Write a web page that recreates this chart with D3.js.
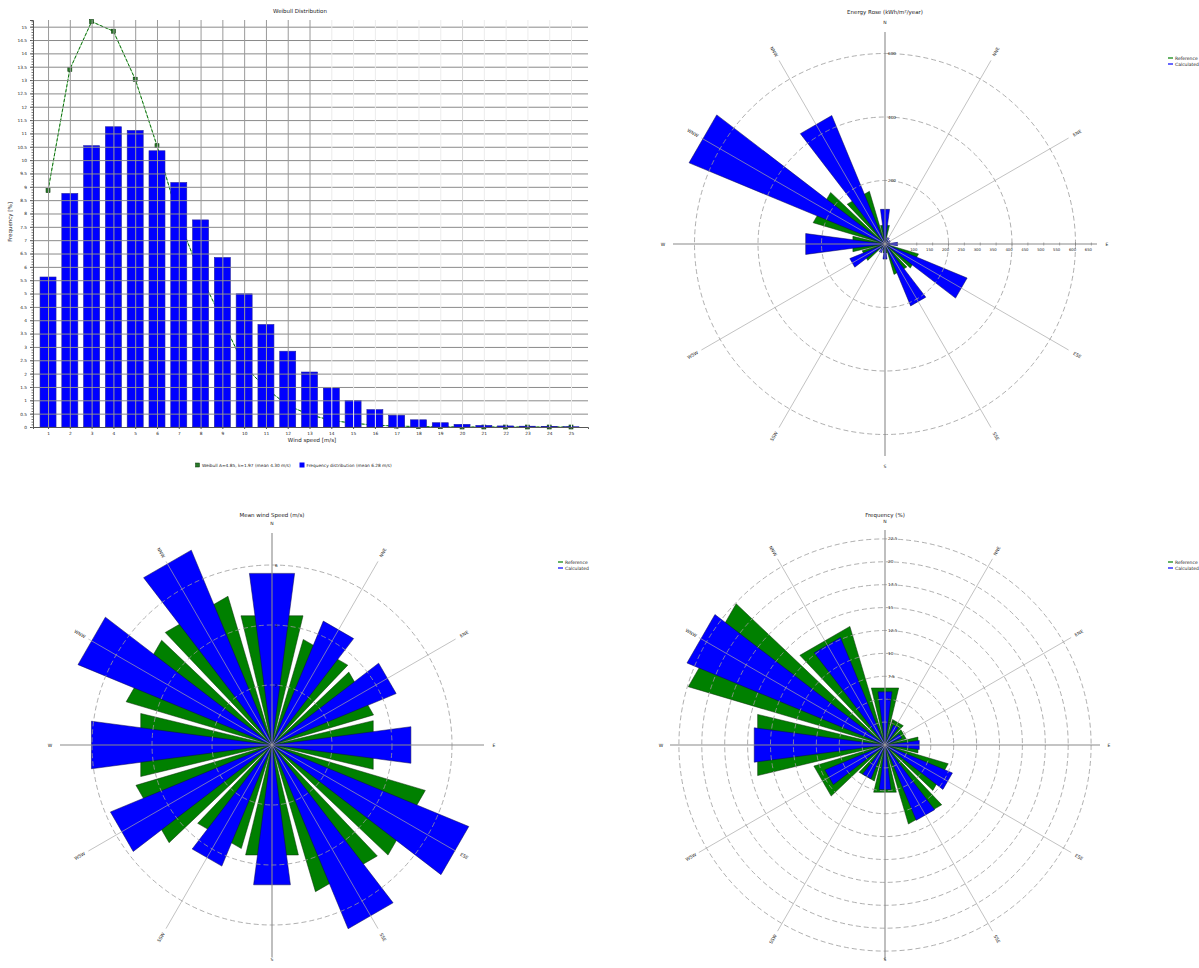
<!DOCTYPE html>
<html>
<head>
<meta charset="utf-8">
<script src="https://cdn.jsdelivr.net/npm/d3@7"></script>
<style>
  body { margin: 0; background: #fff; }
  svg { display: block; }
  text { font-family: "DejaVu Sans", "Liberation Sans", sans-serif; fill: #222; }
</style>
</head>
<body>
<svg id="chart" width="1199" height="968"></svg>
<script>
// ---------- Wind speed distribution ----------
const speedBins = [1, 2, 3, 4, 5, 6, 7, 8, 9, 10, 11, 12, 13, 14, 15, 16, 17, 18, 19, 20, 21, 22, 23, 24, 25];
const calcFreq = [5.62, 8.75, 10.54, 11.25, 11.11, 10.35, 9.16, 7.76, 6.35, 4.99, 3.84, 2.84, 2.06,
                  1.46, 1.00, 0.65, 0.44, 0.27, 0.16, 0.10, 0.06, 0.04, 0.03, 0.02, 0.01];
const weibullFreq = [8.86, 13.40, 15.19, 14.83, 13.03, 10.54, 7.78, 5.68, 4.00, 2.30, 1.45, 0.81, 0.46,
                     0.25, 0.14, 0.07, 0.035, 0.015, 0.01, 0, 0, 0, 0, 0, 0];
const weibullLegend = "Weibull A=4.85, k=1.97 (mean 4.30 m/s)";
const calcLegend = "Frequency distribution (mean 6.28 m/s)";

// ---------- Directional data (12 sectors) ----------
const directions = ["N", "NNE", "ENE", "E", "ESE", "SSE", "S", "SSW", "WSW", "W", "WNW", "NNW"];
const energyRef  = [60, 14, 10, 15, 110, 100, 28, 18, 75, 104, 236, 173];
const energyCalc = [110, 22, 18, 40, 280, 211, 48, 30, 120, 252, 668, 438];
const speedRef   = [4.43, 3.67, 3.53, 3.47, 5.33, 5.10, 3.77, 3.60, 4.73, 4.50, 5.07, 5.17];
const speedCalc  = [5.77, 4.47, 4.48, 4.67, 7.10, 6.63, 4.70, 4.37, 5.83, 6.07, 7.00, 7.03];
const freqRef    = [6.4, 2.9, 2.4, 3.7, 7.2, 9.0, 5.3, 4.1, 8.1, 14.3, 22.4, 13.5];
const freqCalc   = [5.85, 2.37, 1.97, 3.77, 7.97, 8.9, 4.91, 4.0, 7.1, 14.4, 23.4, 12.7];

const energyRings = [200, 400, 600];
const energyAxisTicks = [100, 150, 200, 250, 300, 350, 400, 450, 500, 550, 600, 650];
const speedRings = [2, 4, 6];
const freqRings = [2.5, 5, 7.5, 10, 12.5, 15, 17.5, 20, 22.5];
const seriesNames = ["Reference", "Calculated"];

const GREEN = "#008000", BLUE = "#0000ff";
const svg = d3.select("#chart");

// ================= Weibull distribution chart =================
(function () {
  const box = { left: 33, right: 588, top: 20, bottom: 427 };
  const x = d3.scaleLinear().domain([0.31, 25.78]).range([box.left, box.right]);
  const y = d3.scaleLinear().domain([0, 15.25]).range([box.bottom, box.top]);
  const g = svg.append("g");

  g.append("text").attr("x", 300).attr("y", 13).attr("text-anchor", "middle")
    .attr("font-size", 5.5).text("Weibull Distribution");

  // fitted curve (drawn beneath the bars)
  const line = d3.line().x((d, i) => x(speedBins[i])).y(d => y(d));
  g.append("path").datum(weibullFreq).attr("d", line)
    .attr("fill", "none").attr("stroke", "#8fd08f").attr("stroke-width", 1);
  g.append("path").datum(weibullFreq).attr("d", line)
    .attr("fill", "none").attr("stroke", "#006400").attr("stroke-width", 0.9)
    .attr("stroke-dasharray", "3,2");
  g.selectAll("rect.mk").data(weibullFreq).join("rect").attr("class", "mk")
    .attr("x", (d, i) => x(speedBins[i]) - 2).attr("y", d => y(d) - 2)
    .attr("width", 4).attr("height", 4)
    .attr("fill", "#2a7a2a").attr("stroke", "#0b3b0b").attr("stroke-width", 0.6);

  // bars
  g.selectAll("rect.bar").data(calcFreq).join("rect").attr("class", "bar")
    .attr("x", (d, i) => x(speedBins[i]) - 8).attr("width", 16)
    .attr("y", d => y(d)).attr("height", d => y(0) - y(d))
    .attr("fill", BLUE).attr("stroke", "#2020a0").attr("stroke-width", 0.6);

  // grid over the bars
  const gy = g.append("g").attr("transform", `translate(${box.left},0)`)
    .call(d3.axisLeft(y).ticks(30).tickSize(-(box.right - box.left)).tickFormat(""));
  gy.selectAll("line").attr("stroke", "#8a8a8a").attr("stroke-width", 1);
  gy.select(".domain").remove();
  const gx = g.append("g").attr("transform", `translate(0,${box.top})`)
    .call(d3.axisBottom(x).tickValues(speedBins).tickSize(box.bottom - box.top).tickFormat(""));
  gx.selectAll("line").attr("stroke", d => d <= 13 ? "#9a9a9a" : (d === 20 ? "#d4d4d4" : "#ececec"))
    .attr("stroke-width", 1);
  gx.select(".domain").remove();

  // axes
  const ay = g.append("g").attr("transform", `translate(${box.left},0)`)
    .call(d3.axisLeft(y).ticks(30).tickSize(3).tickFormat(d3.format("~g")));
  ay.selectAll("text").attr("font-size", 4.3).attr("fill", "#333").attr("font-family", "DejaVu Sans");
  ay.select(".domain").attr("stroke", "#555");
  ay.selectAll("line").attr("stroke", "#555");
  const aym = g.append("g").attr("transform", `translate(${box.left},0)`)
    .call(d3.axisLeft(y).ticks(150).tickSize(1.5).tickFormat(""));
  aym.selectAll("line").attr("stroke", "#777");
  aym.select(".domain").remove();

  const ax = g.append("g").attr("transform", `translate(0,${box.bottom})`)
    .call(d3.axisBottom(x).tickValues(speedBins).tickSize(2).tickFormat(d3.format("d")));
  ax.selectAll("text").attr("font-size", 4.3).attr("fill", "#333").attr("font-family", "DejaVu Sans");
  ax.select(".domain").attr("stroke", "#555");
  ax.selectAll("line").attr("stroke", "#555");

  g.append("text").attr("x", 312).attr("y", 442).attr("text-anchor", "middle")
    .attr("font-size", 5.5).text("Wind speed [m/s]");
  g.append("text").attr("transform", "translate(12,222) rotate(-90)").attr("text-anchor", "middle")
    .attr("font-size", 5.5).text("Frequency [%]");

  // legend
  g.append("rect").attr("x", 195.5).attr("y", 463).attr("width", 4).attr("height", 4)
    .attr("fill", "#2a7a2a").attr("stroke", "#0b3b0b").attr("stroke-width", 0.5);
  g.append("text").attr("x", 202).attr("y", 467).attr("font-size", 4.3).text(weibullLegend);
  g.append("rect").attr("x", 299.5).attr("y", 462.5).attr("width", 5).attr("height", 5)
    .attr("fill", BLUE);
  g.append("text").attr("x", 306.5).attr("y", 467).attr("font-size", 4.3).text(calcLegend);
})();

// ================= Polar roses =================
function rose(cfg) {
  const g = svg.append("g").attr("transform", `translate(${cfg.cx},${cfg.cy})`);
  const r = d3.scaleLinear().domain([0, cfg.unit]).range([0, cfg.unitPx]);
  const sector = d3.scaleBand().domain(directions).range([-15, 345]);
  const centre = d => sector(d) + sector.bandwidth() / 2;
  const rad = deg => deg * Math.PI / 180;
  const pt = (deg, rr) => [rr * Math.sin(rad(deg)), -rr * Math.cos(rad(deg))];

  function wedge(deg, rr, half) {
    const p = d3.path();
    p.moveTo(0, 0);
    const a = pt(deg - half, rr), b = pt(deg + half, rr);
    p.lineTo(a[0], a[1]);
    p.lineTo(b[0], b[1]);
    p.closePath();
    return p.toString();
  }

  svg.append("text").attr("x", cfg.cx).attr("y", cfg.titleY).attr("text-anchor", "middle")
    .attr("font-size", 5.5).text(cfg.title);

  // reference wedges (wide) then calculated wedges (narrow)
  g.selectAll("path.ref").data(cfg.ref).join("path").attr("class", "ref")
    .attr("d", (v, i) => wedge(centre(directions[i]), r(v), 13.5))
    .attr("fill", GREEN).attr("stroke", "#0a2a0a").attr("stroke-width", 0.5);
  g.selectAll("path.calc").data(cfg.calc).join("path").attr("class", "calc")
    .attr("d", (v, i) => wedge(centre(directions[i]), r(v), 7.5))
    .attr("fill", BLUE).attr("stroke", "#0a0a4a").attr("stroke-width", 0.5);

  // rings
  g.selectAll("circle.ring").data(cfg.rings).join("circle").attr("class", "ring")
    .attr("r", d => r(d)).attr("fill", "none")
    .attr("stroke", "#9a9a9a").attr("stroke-width", 0.8).attr("stroke-dasharray", "5,3");

  // spokes
  g.selectAll("line.spoke").data(directions).join("line").attr("class", "spoke")
    .attr("x1", 0).attr("y1", 0)
    .attr("x2", d => pt(centre(d), cfg.spokeR)[0])
    .attr("y2", d => pt(centre(d), cfg.spokeR)[1])
    .attr("stroke", d => ["N", "E", "S", "W"].includes(d) ? "#8a8a8a" : "#a8a8a8")
    .attr("stroke-width", d => ["N", "E", "S", "W"].includes(d) ? 1.1 : 0.7);

  // ring labels on the north axis
  g.selectAll("text.rl").data(cfg.rings).join("text").attr("class", "rl")
    .attr("x", 3).attr("y", d => -r(d) + 1.5)
    .attr("font-size", 4.2).attr("fill", "#444").text(d => d3.format("~g")(d));

  // optional scale along the east axis
  if (cfg.axisTicks) {
    g.selectAll("line.at").data(cfg.axisTicks).join("line").attr("class", "at")
      .attr("x1", d => r(d)).attr("x2", d => r(d)).attr("y1", -1.5).attr("y2", 1.5)
      .attr("stroke", "#777").attr("stroke-width", 0.6);
    g.selectAll("text.at").data(cfg.axisTicks).join("text").attr("class", "at")
      .attr("x", d => r(d) - 3).attr("y", 6.5).attr("text-anchor", "middle")
      .attr("font-size", 3.8).attr("fill", "#444").text(d => d);
  }

  // direction labels
  g.selectAll("text.dir").data(directions).join("text").attr("class", "dir")
    .attr("transform", d => {
      const a = centre(d);
      const p = pt(a, d === "S" ? cfg.labelR - cfg.southTrim : cfg.labelR);
      let rot = 0;
      if (a % 90 !== 0) rot = a < 180 ? a - 90 : a - 270;
      return `translate(${p[0]},${p[1]}) rotate(${rot})`;
    })
    .attr("text-anchor", "middle").attr("dy", "0.35em")
    .attr("font-size", 4.5).attr("fill", "#333").text(d => d);

  // legend
  const lg = svg.append("g").attr("transform", `translate(${cfg.legendX},${cfg.legendY})`);
  [GREEN, BLUE].forEach((c, i) => {
    lg.append("line").attr("x1", 0).attr("x2", 5).attr("y1", i * 6).attr("y2", i * 6)
      .attr("stroke", c).attr("stroke-width", 1.2);
    lg.append("text").attr("x", 7).attr("y", i * 6 + 1.6).attr("font-size", 4.5)
      .text(seriesNames[i]);
  });
}

rose({
  cx: 885, cy: 244, titleY: 14, title: "Energy Rose (kWh/m²/year)",
  unit: 200, unitPx: 63.5, ref: energyRef, calc: energyCalc,
  rings: energyRings, axisTicks: energyAxisTicks,
  spokeR: 212, labelR: 222, southTrim: 0, legendX: 1168, legendY: 58
});
rose({
  cx: 272, cy: 745, titleY: 517, title: "Mean wind Speed (m/s)",
  unit: 2, unitPx: 60, ref: speedRef, calc: speedCalc,
  rings: speedRings, spokeR: 212, labelR: 222, southTrim: 8, legendX: 558, legendY: 562
});
rose({
  cx: 885, cy: 745, titleY: 517, title: "Frequency (%)",
  unit: 2.5, unitPx: 22.9, ref: freqRef, calc: freqCalc,
  rings: freqRings, spokeR: 215, labelR: 224, southTrim: 10, legendX: 1168, legendY: 562
});
</script>
</body>
</html>
